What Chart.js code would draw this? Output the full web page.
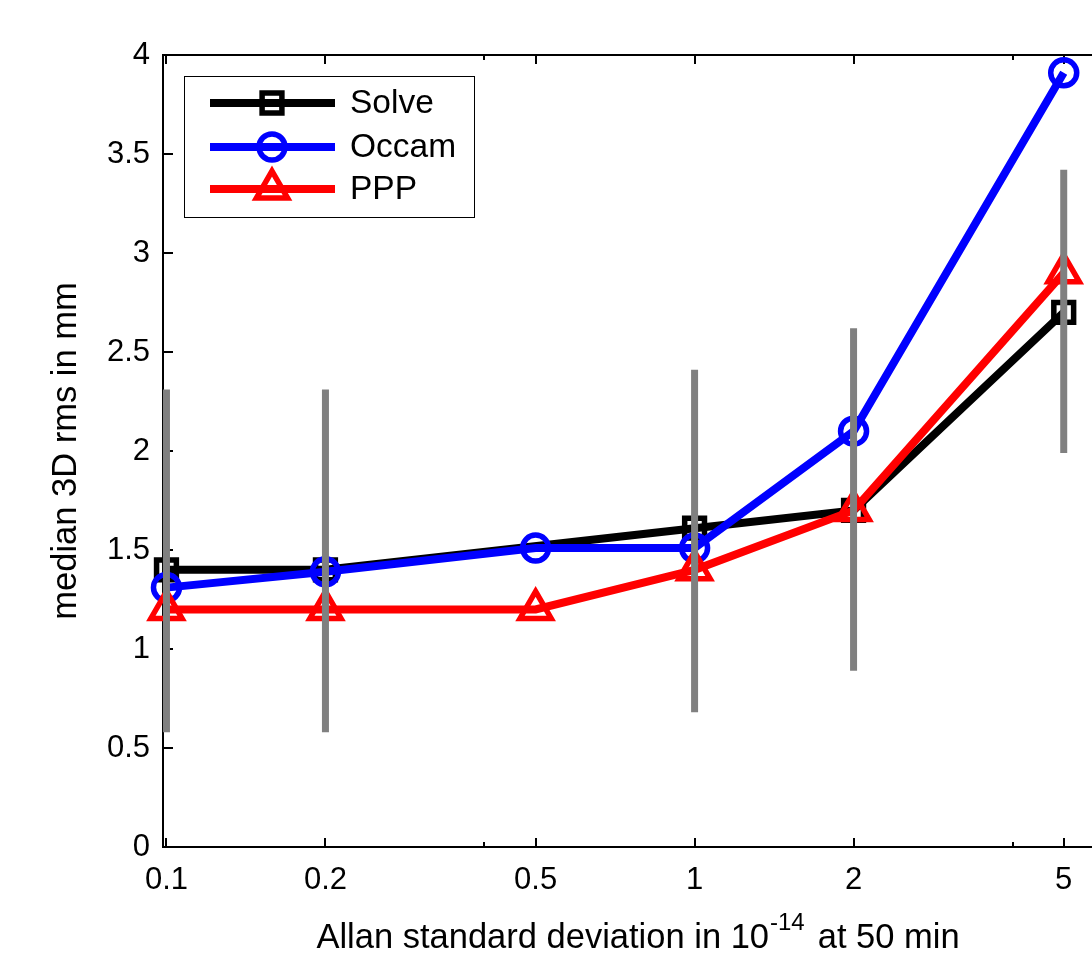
<!DOCTYPE html>
<html><head><meta charset="utf-8">
<script src="https://cdn.jsdelivr.net/npm/chart.js@4/dist/chart.umd.min.js"></script>
<style>html,body{margin:0;padding:0;background:#fff;overflow:hidden}#wrap{width:1092px;height:956px;position:relative}canvas{display:block}</style>
</head><body><div id="wrap"><canvas id="c" width="1092" height="956"></canvas></div>
<script>
// ---- data ----
const seriesNames = ['Solve', 'Occam', 'PPP'];
const occamX = [0.1, 0.2, 0.5, 1, 2, 5];
const pppX = [0.1, 0.2, 0.5, 1, 2, 5];
const solveX = [0.1, 0.2, 1, 2, 5];
const solveY = [1.40, 1.40, 1.61, 1.70, 2.70];
const occamY = [1.31, 1.39, 1.51, 1.51, 2.10, 3.91];
const pppY = [1.20, 1.20, 1.20, 1.40, 1.70, 2.90];
const errX = [0.1, 0.2, 1, 2, 5];
const errLow = [0.58, 0.58, 0.68, 0.89, 1.99];
const errHigh = [2.31, 2.31, 2.41, 2.62, 3.42];
const xTicks = [0.1, 0.2, 0.5, 1, 2, 5];
const xTickLabels = ['0.1', '0.2', '0.5', '1', '2', '5'];
const xMinorTicks = [0.4, 4];
const yTicks = [0, 0.5, 1, 1.5, 2, 2.5, 3, 3.5, 4];
const yTickLabels = ['0', '0.5', '1', '1.5', '2', '2.5', '3', '3.5', '4'];
const xTitleParts = ['Allan standard deviation in 10', '-14', 'at 50 min'];
const yTitle = 'median 3D rms in mm';

const FONT = "'Liberation Sans', Arial, Helvetica, sans-serif";
Chart.defaults.font.family = FONT;
Chart.defaults.color = '#000';

const pts = (xs, ys) => xs.map((x, i) => ({x: x, y: ys[i]}));
const errData = [];
errX.forEach((x, i) => { errData.push({x: x, y: errLow[i]}, {x: x, y: errHigh[i]}, {x: x, y: null}); });

function drawMarker(ctx, style, r, x, y) {
  ctx.beginPath();
  if (style === 'rect') {
    const h = r * Math.SQRT1_2;
    ctx.rect(x - h, y - h, 2 * h, 2 * h);
  } else if (style === 'circle') {
    ctx.arc(x, y, r, 0, Math.PI * 2);
  } else if (style === 'triangle') {
    let a = 0;
    ctx.moveTo(x + Math.sin(a) * r, y - Math.cos(a) * r);
    a += 2 * Math.PI / 3;
    ctx.lineTo(x + Math.sin(a) * r, y - Math.cos(a) * r);
    a += 2 * Math.PI / 3;
    ctx.lineTo(x + Math.sin(a) * r, y - Math.cos(a) * r);
    ctx.closePath();
  }
  ctx.stroke();
}

const zeroPad = () => ({left: 0, top: 0, right: 0, bottom: 0});

const matlabPlugin = {
  id: 'matlab',
  beforeDatasetsDraw(chart) {
    const ctx = chart.ctx, a = chart.chartArea, xs = chart.scales.x, ys = chart.scales.y;
    ctx.save();
    ctx.strokeStyle = '#000';
    ctx.lineWidth = 2;
    ctx.beginPath();
    ctx.moveTo(a.left - 1, a.top); ctx.lineTo(a.right, a.top);
    ctx.stroke();
    ctx.beginPath();
    xTicks.forEach(v => {
      const p = Math.round(xs.getPixelForValue(v));
      ctx.moveTo(p, a.bottom); ctx.lineTo(p, a.bottom - 9);
      ctx.moveTo(p, a.top); ctx.lineTo(p, a.top + 9);
    });
    xMinorTicks.forEach(v => {
      const p = Math.round(xs.getPixelForValue(v));
      ctx.moveTo(p, a.bottom); ctx.lineTo(p, a.bottom - 5);
      ctx.moveTo(p, a.top); ctx.lineTo(p, a.top + 5);
    });
    yTicks.forEach(v => {
      const p = Math.round(ys.getPixelForValue(v));
      ctx.moveTo(a.left, p); ctx.lineTo(a.left + 10, p);
    });
    ctx.stroke();
    ctx.restore();
  },
  afterDraw(chart) {
    const ctx = chart.ctx;
    ctx.save();
    // legend
    const bx = 184.5, by = 76.5, bw = 290, bh = 141;
    ctx.fillStyle = '#fff';
    ctx.fillRect(bx, by, bw, bh);
    ctx.strokeStyle = '#000';
    ctx.lineWidth = 1;
    ctx.strokeRect(bx, by, bw, bh);
    const rows = [103, 147, 189];
    const sets = chart.data.datasets;
    for (let i = 0; i < 3; i++) {
      const ds = sets[i];
      const y = rows[i];
      ctx.strokeStyle = ds.borderColor;
      ctx.lineWidth = ds.borderWidth;
      ctx.lineCap = 'butt';
      ctx.beginPath(); ctx.moveTo(210, y); ctx.lineTo(335, y); ctx.stroke();
      ctx.lineWidth = ds.pointBorderWidth;
      ctx.lineJoin = 'miter';
      drawMarker(ctx, ds.pointStyle, ds.pointRadius, 272, y);
      ctx.fillStyle = '#000';
      ctx.font = '33.5px ' + FONT;
      ctx.textAlign = 'left';
      ctx.textBaseline = 'middle';
      ctx.fillText(seriesNames[i], 350, y + 1);
    }
    // x title with superscript
    const bigF = '34.5px ' + FONT, smallF = '24px ' + FONT;
    ctx.font = bigF; const w1 = ctx.measureText(xTitleParts[0]).width;
    const w3 = ctx.measureText(xTitleParts[2]).width;
    ctx.font = smallF; const w2 = ctx.measureText(xTitleParts[1]).width;
    const gap = 14;
    const total = w1 + w2 + gap + w3;
    let x0 = 638 - total / 2;
    const base = 948;
    ctx.fillStyle = '#000';
    ctx.textAlign = 'left';
    ctx.textBaseline = 'alphabetic';
    ctx.font = bigF; ctx.fillText(xTitleParts[0], x0, base);
    ctx.font = smallF; ctx.fillText(xTitleParts[1], x0 + w1 + 1, base - 18);
    ctx.font = bigF; ctx.fillText(xTitleParts[2], x0 + w1 + w2 + gap, base);
    ctx.restore();
  }
};

const lineCommon = {
  showLine: true, tension: 0, clip: false, borderWidth: 8,
  borderCapStyle: 'butt', borderJoinStyle: 'miter',
  pointBackgroundColor: 'rgba(0,0,0,0)', pointBorderWidth: 5.5
};

new Chart(document.getElementById('c'), {
  type: 'line',
  data: {
    datasets: [
      Object.assign({}, lineCommon, {label: seriesNames[0], data: pts(solveX, solveY), borderColor: '#000000', pointBorderColor: '#000000', pointStyle: 'rect', pointRadius: 14, pointHoverRadius: 14, order: 3}),
      Object.assign({}, lineCommon, {label: seriesNames[1], data: pts(occamX, occamY), borderColor: '#0000ff', pointBorderColor: '#0000ff', pointStyle: 'circle', pointRadius: 13, pointHoverRadius: 13, order: 2}),
      Object.assign({}, lineCommon, {label: seriesNames[2], data: pts(pppX, pppY), borderColor: '#ff0000', pointBorderColor: '#ff0000', pointStyle: 'triangle', pointRadius: 18, pointHoverRadius: 18, order: 1}),
      {label: 'range', data: errData, borderColor: '#808080', borderWidth: 7, pointRadius: 0, pointHoverRadius: 0,
       spanGaps: false, borderCapStyle: 'butt', clip: false, order: 0}
    ]
  },
  options: {
    responsive: false, animation: false, events: [],
    layout: {autoPadding: false, padding: {top: 55, left: 0, right: 0, bottom: 0}},
    plugins: {legend: {display: false}, tooltip: {enabled: false}},
    scales: {
      x: {
        type: 'logarithmic', position: 'bottom', min: 0.0985, max: 5.656,
        afterBuildTicks: s => { s.ticks = xTicks.map(v => ({value: v})); },
        afterFit: s => { s.height = 109; s.paddingLeft = 0; s.paddingRight = 0; s.getPadding = zeroPad; },
        grid: {display: false, drawTicks: false},
        border: {display: true, color: '#000', width: 2},
        ticks: {autoSkip: false, maxRotation: 0, minRotation: 0, padding: 15, color: '#000',
                font: {size: 31}, callback: (v, i) => xTickLabels[i]}
      },
      y: {
        type: 'linear', position: 'left', min: 0, max: 4,
        afterBuildTicks: s => { s.ticks = yTicks.map(v => ({value: v})); },
        afterFit: s => { s.width = 163; s.paddingTop = 0; s.paddingBottom = 0; s.getPadding = zeroPad; },
        grid: {display: false, drawTicks: false},
        border: {display: true, color: '#000', width: 2},
        ticks: {padding: 13, color: '#000', font: {size: 31}, callback: (v, i) => yTickLabels[i]},
        title: {display: true, text: yTitle, color: '#000', font: {size: 34.5}, padding: {top: 46, bottom: 0}}
      }
    }
  },
  plugins: [matlabPlugin]
});
</script>
</body></html>
